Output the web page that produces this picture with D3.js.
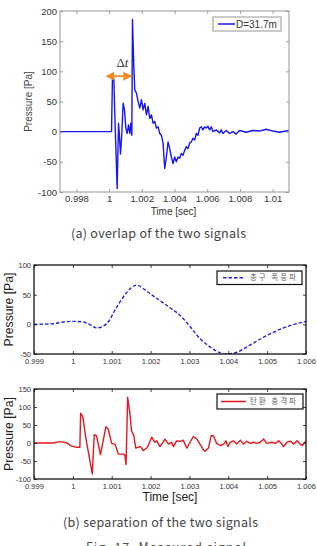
<!DOCTYPE html>
<html>
<head>
<meta charset="utf-8">
<script src="https://cdn.jsdelivr.net/npm/d3@7"></script>
<style>
body { margin: 0; background: #fff; }
svg { display: block; }
text { font-family: "Liberation Sans", Arial, sans-serif; }
</style>
</head>
<body>
<svg id="chart" width="317" height="546"></svg>
<script>
// (a) overlap of the two signals : [time sec, pressure Pa]
const overlapSignal = [
    [0.997, 0], [1.00015, 0], [1.000211, 96], [1.000293, 86], [1.000374, 8],
    [1.000496, -94], [1.000577, 14], [1.000618, 0], [1.000699, -37], [1.00078, -3],
    [1.000862, 47], [1.000943, 36], [1.001024, 6], [1.001106, -3], [1.001187, 11],
    [1.001268, -3], [1.001329, 14], [1.00139, -6], [1.001431, 186], [1.001512, 108],
    [1.001573, 69], [1.001675, 64], [1.001776, 50], [1.001878, 39], [1.00198, 53],
    [1.002081, 36], [1.002183, 47], [1.002285, 28], [1.002386, 42], [1.002488, 22],
    [1.002589, 28], [1.002691, 14], [1.002793, 17], [1.002894, 6], [1.002996, 8],
    [1.003098, -3], [1.003199, -6], [1.003301, -19], [1.003402, -61], [1.003504, -42],
    [1.003606, -17], [1.003707, -28], [1.003809, -42], [1.00391, -53], [1.004012, -42],
    [1.004114, -50], [1.004215, -42], [1.004317, -44], [1.004419, -36], [1.00452, -39],
    [1.004622, -31], [1.004724, -25], [1.004825, -28], [1.004927, -19], [1.005028, -17],
    [1.00513, -11], [1.005232, -14], [1.005333, -3], [1.005435, -6], [1.005537, 6],
    [1.005638, 8], [1.00574, 3], [1.005841, 8], [1.005943, 6], [1.006045, 9],
    [1.006146, 3], [1.006248, 8], [1.00635, 0], [1.006553, 3], [1.006756, -2],
    [1.006858, 3], [1.006959, -3], [1.007163, 2], [1.007366, -3], [1.007569, 0],
    [1.007772, -4], [1.007976, 2], [1.008382, -1], [1.008789, 2], [1.009195, 1],
    [1.009602, 4], [1.010008, 1], [1.010415, -1], [1.010984, 2]
];

// (b) muzzle blast part
const blastSignal = [
    [0.999, 0], [0.9995, 1], [0.99975, 4], [1.0, 5], [1.00027, 4], [1.00045, -1],
    [1.00061, -6], [1.00075, -4], [1.00087, 1], [1.00113, 29], [1.00139, 54],
    [1.00164, 66], [1.0019, 56], [1.00213, 45], [1.0025, 28], [1.00276, 15],
    [1.00302, -4], [1.00327, -24], [1.00353, -38], [1.00379, -48], [1.00396, -50],
    [1.00422, -47], [1.00456, -35], [1.0049, -22], [1.00542, -6], [1.006, 5]
];

// (b) bullet shock wave part
const shockSignal = [
    [0.999, 0], [0.9995, 0], [0.99962, 3], [0.99972, 3], [0.99985, 0], [0.99995, -8],
    [1.0001, -12], [1.00018, -12], [1.0002, 83], [1.00026, 71], [1.00033, 16],
    [1.0005, -86], [1.00055, 23], [1.00061, 20], [1.00071, -32], [1.00085, 45],
    [1.00091, 39], [1.001, -1], [1.00108, -3], [1.00112, -14], [1.00117, -31],
    [1.0013, -31], [1.00134, -34], [1.00137, -60], [1.00141, 127], [1.00147, 81],
    [1.00151, 34], [1.00157, 20], [1.00162, -14], [1.00173, -10], [1.00177, -14],
    [1.00181, -21], [1.0019, -14], [1.00194, -7], [1.00203, 16], [1.00211, 2],
    [1.00216, 6], [1.00224, -10], [1.00233, 4], [1.00237, 11], [1.00246, -3],
    [1.00254, 2], [1.00259, -10], [1.00267, 6], [1.0028, 5], [1.00284, 8],
    [1.00293, -14], [1.00297, -7], [1.0031, 18], [1.00319, 11], [1.00327, -3],
    [1.00336, -19], [1.0034, -23], [1.00349, -14], [1.00356, 20], [1.00362, 20],
    [1.0037, -1], [1.00379, -7], [1.00388, -3], [1.00394, 6], [1.00399, -10],
    [1.00405, 2], [1.00413, 6], [1.00422, -3], [1.00431, 8], [1.00439, -3],
    [1.00448, 5], [1.00456, -1], [1.00465, 2], [1.00474, -1], [1.00482, 2],
    [1.00491, 11], [1.00499, -1], [1.00512, 2], [1.00521, -1], [1.0053, 6],
    [1.00538, -3], [1.00542, -10], [1.00551, 2], [1.0056, 5], [1.00568, -3],
    [1.00577, 6], [1.00585, -3], [1.0059, -7], [1.00598, 4], [1.006, 2]
];

// ticks
const xTicksA = [0.998, 1, 1.002, 1.004, 1.006, 1.008, 1.01];
const yTicksA = [-100, -50, 0, 50, 100, 150, 200];
const xTicksB = [0.999, 1, 1.001, 1.002, 1.003, 1.004, 1.005, 1.006];
const yTicksB1 = [-50, 0, 50, 100];
const yTicksB2 = [-100, -50, 0, 50, 100, 150];

// delta t arrow between the two arrivals
const deltaT = [1.00021, 1.00143];
const deltaLevel = 92;

const svg = d3.select("#chart");
const fmt = d => String(+d.toFixed(4));

function drawPanel(p) {
    const x = d3.scaleLinear().domain(p.xDomain).range([p.left, p.right]);
    const y = d3.scaleLinear().domain(p.yDomain).range([p.bottom, p.top]);
    const g = svg.append("g");

    svg.append("clipPath").attr("id", "clip-" + p.name)
        .append("rect")
        .attr("x", p.left).attr("y", p.top)
        .attr("width", p.right - p.left).attr("height", p.bottom - p.top);

    // signal
    g.append("path")
        .datum(p.data)
        .attr("clip-path", "url(#clip-" + p.name + ")")
        .attr("fill", "none")
        .attr("stroke", p.color)
        .attr("stroke-width", p.lineWidth)
        .attr("stroke-dasharray", p.dash || null)
        .attr("stroke-linejoin", "round")
        .attr("d", d3.line().x(d => x(d[0])).y(d => y(d[1])).curve(p.curve));

    // axes, MATLAB style ticks pointing inwards
    const axes = [
        g.append("g").attr("transform", `translate(0,${p.bottom})`)
            .call(d3.axisBottom(x).tickValues(p.xTicks).tickFormat(fmt)
                .tickSizeInner(-3).tickSizeOuter(0).tickPadding(p.xPad)),
        g.append("g").attr("transform", `translate(0,${p.top})`)
            .call(d3.axisTop(x).tickValues(p.xTicks).tickFormat("")
                .tickSizeInner(-3).tickSizeOuter(0)),
        g.append("g").attr("transform", `translate(${p.left},0)`)
            .call(d3.axisLeft(y).tickValues(p.yTicks).tickFormat(fmt)
                .tickSizeInner(-3).tickSizeOuter(0).tickPadding(p.yPad)),
        g.append("g").attr("transform", `translate(${p.right},0)`)
            .call(d3.axisRight(y).tickValues(p.yTicks).tickFormat("")
                .tickSizeInner(-3).tickSizeOuter(0))
    ];
    axes.forEach(a => {
        a.select(".domain").remove();
        a.selectAll("line").attr("stroke", p.axisColor).attr("stroke-width", 0.8);
        a.selectAll("text")
            .attr("fill", p.tickColor)
            .style("font-size", p.tickSize + "px")
            .style("font-family", '"Liberation Sans", Arial, sans-serif');
    });

    // frame
    g.append("rect")
        .attr("x", p.left).attr("y", p.top)
        .attr("width", p.right - p.left).attr("height", p.bottom - p.top)
        .attr("fill", "none")
        .attr("stroke", p.axisColor)
        .attr("stroke-width", p.frameWidth);

    // y label
    g.append("text")
        .attr("transform", `translate(${p.yLabelX},${(p.top + p.bottom) / 2}) rotate(-90)`)
        .attr("text-anchor", "middle")
        .attr("fill", p.labelColor)
        .style("font-size", p.labelSize + "px")
        .text("Pressure [Pa]");

    return { x, y, g };
}

function drawLegend(p) {
    const lg = svg.append("g");
    lg.append("rect")
        .attr("x", p.x).attr("y", p.y).attr("width", p.w).attr("height", p.h)
        .attr("fill", "#fff").attr("stroke", p.boxColor).attr("stroke-width", p.boxWidth);
    lg.append("line")
        .attr("x1", p.x + p.lineFrom).attr("x2", p.x + p.lineTo)
        .attr("y1", p.y + p.h / 2).attr("y2", p.y + p.h / 2)
        .attr("stroke", p.color).attr("stroke-width", 1.5)
        .attr("stroke-dasharray", p.dash || null);
    const t = lg.append("text")
        .attr("x", p.x + p.textX).attr("y", p.y + p.h / 2)
        .attr("dy", "0.35em")
        .attr("fill", p.textColor)
        .style("font-size", p.fontSize + "px")
        .style("font-family", p.font)
        .text(p.label);
    if (p.textLength) t.attr("textLength", p.textLength).attr("lengthAdjust", "spacing");
}

// ---------- (a) ----------
const pa = drawPanel({
    name: "a", data: overlapSignal,
    xDomain: [0.997, 1.011], yDomain: [-100, 200],
    left: 60, right: 289, top: 11, bottom: 192,
    xTicks: xTicksA, yTicks: yTicksA, xPad: 3, yPad: 3,
    color: "#1717f0", lineWidth: 1.4, curve: d3.curveLinear,
    axisColor: "#8a8a8a", frameWidth: 0.9, tickColor: "#333", tickSize: 9.5,
    labelColor: "#444", labelSize: 10, yLabelX: 32
});

pa.g.append("text")
    .attr("x", (60 + 289) / 2 - 1).attr("y", 214.5)
    .attr("text-anchor", "middle")
    .attr("fill", "#333")
    .style("font-size", "10px")
    .text("Time [sec]");

drawLegend({
    x: 213, y: 17, w: 68, h: 14, boxColor: "#8a8a8a", boxWidth: 0.9,
    lineFrom: 5, lineTo: 22, color: "#1717f0", textX: 23,
    label: "D=31.7m", textColor: "#333", fontSize: 10,
    font: '"Liberation Sans", Arial, sans-serif'
});

// delta t arrow
const defs = svg.append("defs");
["start", "end"].forEach(k => {
    defs.append("marker")
        .attr("id", "arrow-" + k)
        .attr("viewBox", "0 0 10 10")
        .attr("refX", k === "end" ? 9 : 1).attr("refY", 5)
        .attr("markerWidth", 5).attr("markerHeight", 5)
        .attr("orient", k === "end" ? "auto" : "auto-start-reverse")
        .append("path")
        .attr("d", "M0,0 L10,5 L0,10 z")
        .attr("fill", "#f08a24");
});
pa.g.append("line")
    .attr("x1", pa.x(deltaT[0]) + 1).attr("x2", pa.x(deltaT[1]) - 1)
    .attr("y1", pa.y(deltaLevel)).attr("y2", pa.y(deltaLevel))
    .attr("stroke", "#f08a24").attr("stroke-width", 1.8)
    .attr("marker-start", "url(#arrow-start)")
    .attr("marker-end", "url(#arrow-end)");
const dt = pa.g.append("text")
    .attr("x", (pa.x(deltaT[0]) + pa.x(deltaT[1])) / 2)
    .attr("y", pa.y(deltaLevel) - 9)
    .attr("text-anchor", "middle")
    .attr("fill", "#333")
    .style("font-size", "13px")
    .style("font-family", '"Liberation Serif", "DejaVu Serif", serif');
dt.append("tspan").text("Δ");
dt.append("tspan").style("font-style", "italic").text("t");

svg.append("text")
    .attr("x", 158.5).attr("y", 237.5)
    .attr("text-anchor", "middle")
    .attr("fill", "#444")
    .attr("textLength", 175).attr("lengthAdjust", "spacing")
    .style("font-size", "12.5px")
    .style("font-family", '"Noto Sans CJK KR", "Noto Sans", sans-serif')
    .text("(a) overlap of the two signals");

// ---------- (b) top ----------
drawPanel({
    name: "b1", data: blastSignal,
    xDomain: [0.999, 1.006], yDomain: [-50, 100],
    left: 34, right: 306, top: 265, bottom: 354,
    xTicks: xTicksB, yTicks: yTicksB1, xPad: 5, yPad: 3,
    color: "#2323e6", lineWidth: 1.4, dash: "3.5,2", curve: d3.curveMonotoneX,
    axisColor: "#111", frameWidth: 1.3, tickColor: "#333", tickSize: 7.5,
    labelColor: "#222", labelSize: 12.2, yLabelX: 12.6
});

drawLegend({
    x: 217, y: 271, w: 85, h: 13.5, boxColor: "#111", boxWidth: 1.2,
    lineFrom: 6, lineTo: 28, color: "#2323e6", dash: "3.5,2", textX: 33,
    label: "총구 폭풍파", textColor: "#666", fontSize: 7.5, textLength: 46,
    font: '"Noto Sans CJK KR", sans-serif'
});

// ---------- (b) bottom ----------
drawPanel({
    name: "b2", data: shockSignal,
    xDomain: [0.999, 1.006], yDomain: [-100, 150],
    left: 34, right: 306, top: 389, bottom: 479,
    xTicks: xTicksB, yTicks: yTicksB2, xPad: 5, yPad: 3,
    color: "#e8161e", lineWidth: 1.4, curve: d3.curveLinear,
    axisColor: "#111", frameWidth: 1.3, tickColor: "#333", tickSize: 7.5,
    labelColor: "#222", labelSize: 12.2, yLabelX: 12.6
});

drawLegend({
    x: 217, y: 394, w: 86, h: 15, boxColor: "#111", boxWidth: 1.2,
    lineFrom: 4, lineTo: 29, color: "#e8161e", textX: 33,
    label: "탄환 충격파", textColor: "#666", fontSize: 7.5, textLength: 46,
    font: '"Noto Sans CJK KR", sans-serif'
});

svg.append("text")
    .attr("x", 170).attr("y", 501)
    .attr("text-anchor", "middle")
    .attr("fill", "#222")
    .style("font-size", "12px")
    .text("Time [sec]");

svg.append("text")
    .attr("x", 160.5).attr("y", 526.5)
    .attr("text-anchor", "middle")
    .attr("fill", "#444")
    .attr("textLength", 195).attr("lengthAdjust", "spacing")
    .style("font-size", "12.5px")
    .style("font-family", '"Noto Sans CJK KR", "Noto Sans", sans-serif')
    .text("(b) separation of the two signals");

svg.append("text")
    .attr("x", 166).attr("y", 552)
    .attr("text-anchor", "middle")
    .attr("fill", "#555")
    .attr("textLength", 160).attr("lengthAdjust", "spacing")
    .style("font-size", "12.5px")
    .style("font-family", '"Noto Sans CJK KR", "Noto Sans", sans-serif')
    .text("Fig. 17. Measured signal");
</script>
</body>
</html>
